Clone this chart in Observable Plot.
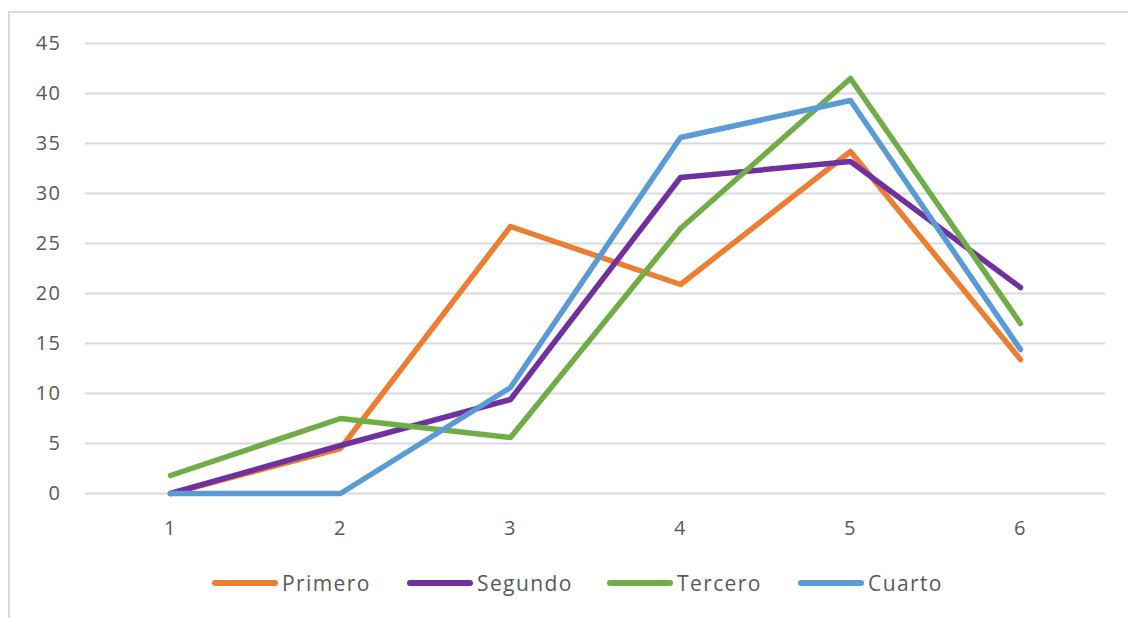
<!DOCTYPE html>
<html>
<head>
<meta charset="utf-8">
<script src="https://cdn.jsdelivr.net/npm/d3@7"></script>
<script src="https://cdn.jsdelivr.net/npm/@observablehq/plot@0.6"></script>
<style>
  html, body { margin: 0; padding: 0; background: #fff; overflow: hidden; width: 1128px; height: 618px; }
  #frame { position: absolute; left: 8px; top: 11px; width: 1140px; height: 640px; border: 2px solid #d9d9d9; box-sizing: border-box; }
  #chart { position: absolute; left: 0; top: 0; }
  #chart svg text { letter-spacing: 1.5px; }
  .leg { position: absolute; top: 570px; height: 26px; display: flex; align-items: center; font-family: "Open Sans", sans-serif; font-size: 21px; color: #595959; letter-spacing: 1.4px; white-space: nowrap; }
  .sw { width: 66px; height: 6px; border-radius: 3px; margin-right: 4px; }
</style>
</head>
<body>
<div id="frame"></div>
<div id="chart"></div>
<div id="legend"></div>
<script>
const categories = [1, 2, 3, 4, 5, 6];
const seriesNames = ["Primero", "Segundo", "Tercero", "Cuarto"];
const primero = [0, 4.5, 26.7, 20.9, 34.2, 13.4];
const segundo = [0, 4.8, 9.4, 31.6, 33.2, 20.6];
const tercero = [1.8, 7.5, 5.6, 26.5, 41.5, 17.0];
const cuarto = [0, 0, 10.6, 35.6, 39.3, 14.4];
const colors = ["#ED7D31", "#7030A0", "#70AD47", "#5B9BD5"];
const yTicks = [0, 5, 10, 15, 20, 25, 30, 35, 40, 45];
const legendX = [212, 407, 607, 798];

const seriesValues = [primero, segundo, tercero, cuarto];
const data = [];
seriesNames.forEach((name, i) => {
  categories.forEach((c, j) => data.push({ x: c, y: seriesValues[i][j], series: name }));
});

const chart = Plot.plot({
  width: 1128,
  height: 545,
  marginLeft: 85,
  marginRight: 23,
  marginTop: 43,
  marginBottom: 52,
  style: { fontFamily: "'Open Sans', sans-serif", fontSize: "20px", color: "#595959", background: "transparent" },
  x: { type: "point", domain: categories, padding: 0.5 },
  y: { domain: [0, 45] },
  color: { domain: seriesNames, range: colors },
  marks: [
    Plot.gridY(yTicks, { stroke: "#d9d9d9", strokeOpacity: 1, strokeWidth: 2 }),
    Plot.axisY(yTicks, { tickSize: 0, tickPadding: 24, label: null, fontSize: 20 }),
    Plot.axisX(categories, { tickSize: 0, tickPadding: 27, label: null, fontSize: 20 }),
    Plot.line(data, { x: "x", y: "y", z: "series", stroke: "series", strokeWidth: 5.5, strokeLinecap: "round", strokeLinejoin: "round" })
  ]
});
document.getElementById("chart").appendChild(chart);

const legend = document.getElementById("legend");
seriesNames.forEach((name, i) => {
  const item = document.createElement("div");
  item.className = "leg";
  item.style.left = legendX[i] + "px";
  const sw = document.createElement("div");
  sw.className = "sw";
  sw.style.background = colors[i];
  const t = document.createElement("span");
  t.textContent = name;
  item.appendChild(sw);
  item.appendChild(t);
  legend.appendChild(item);
});
</script>
</body>
</html>
